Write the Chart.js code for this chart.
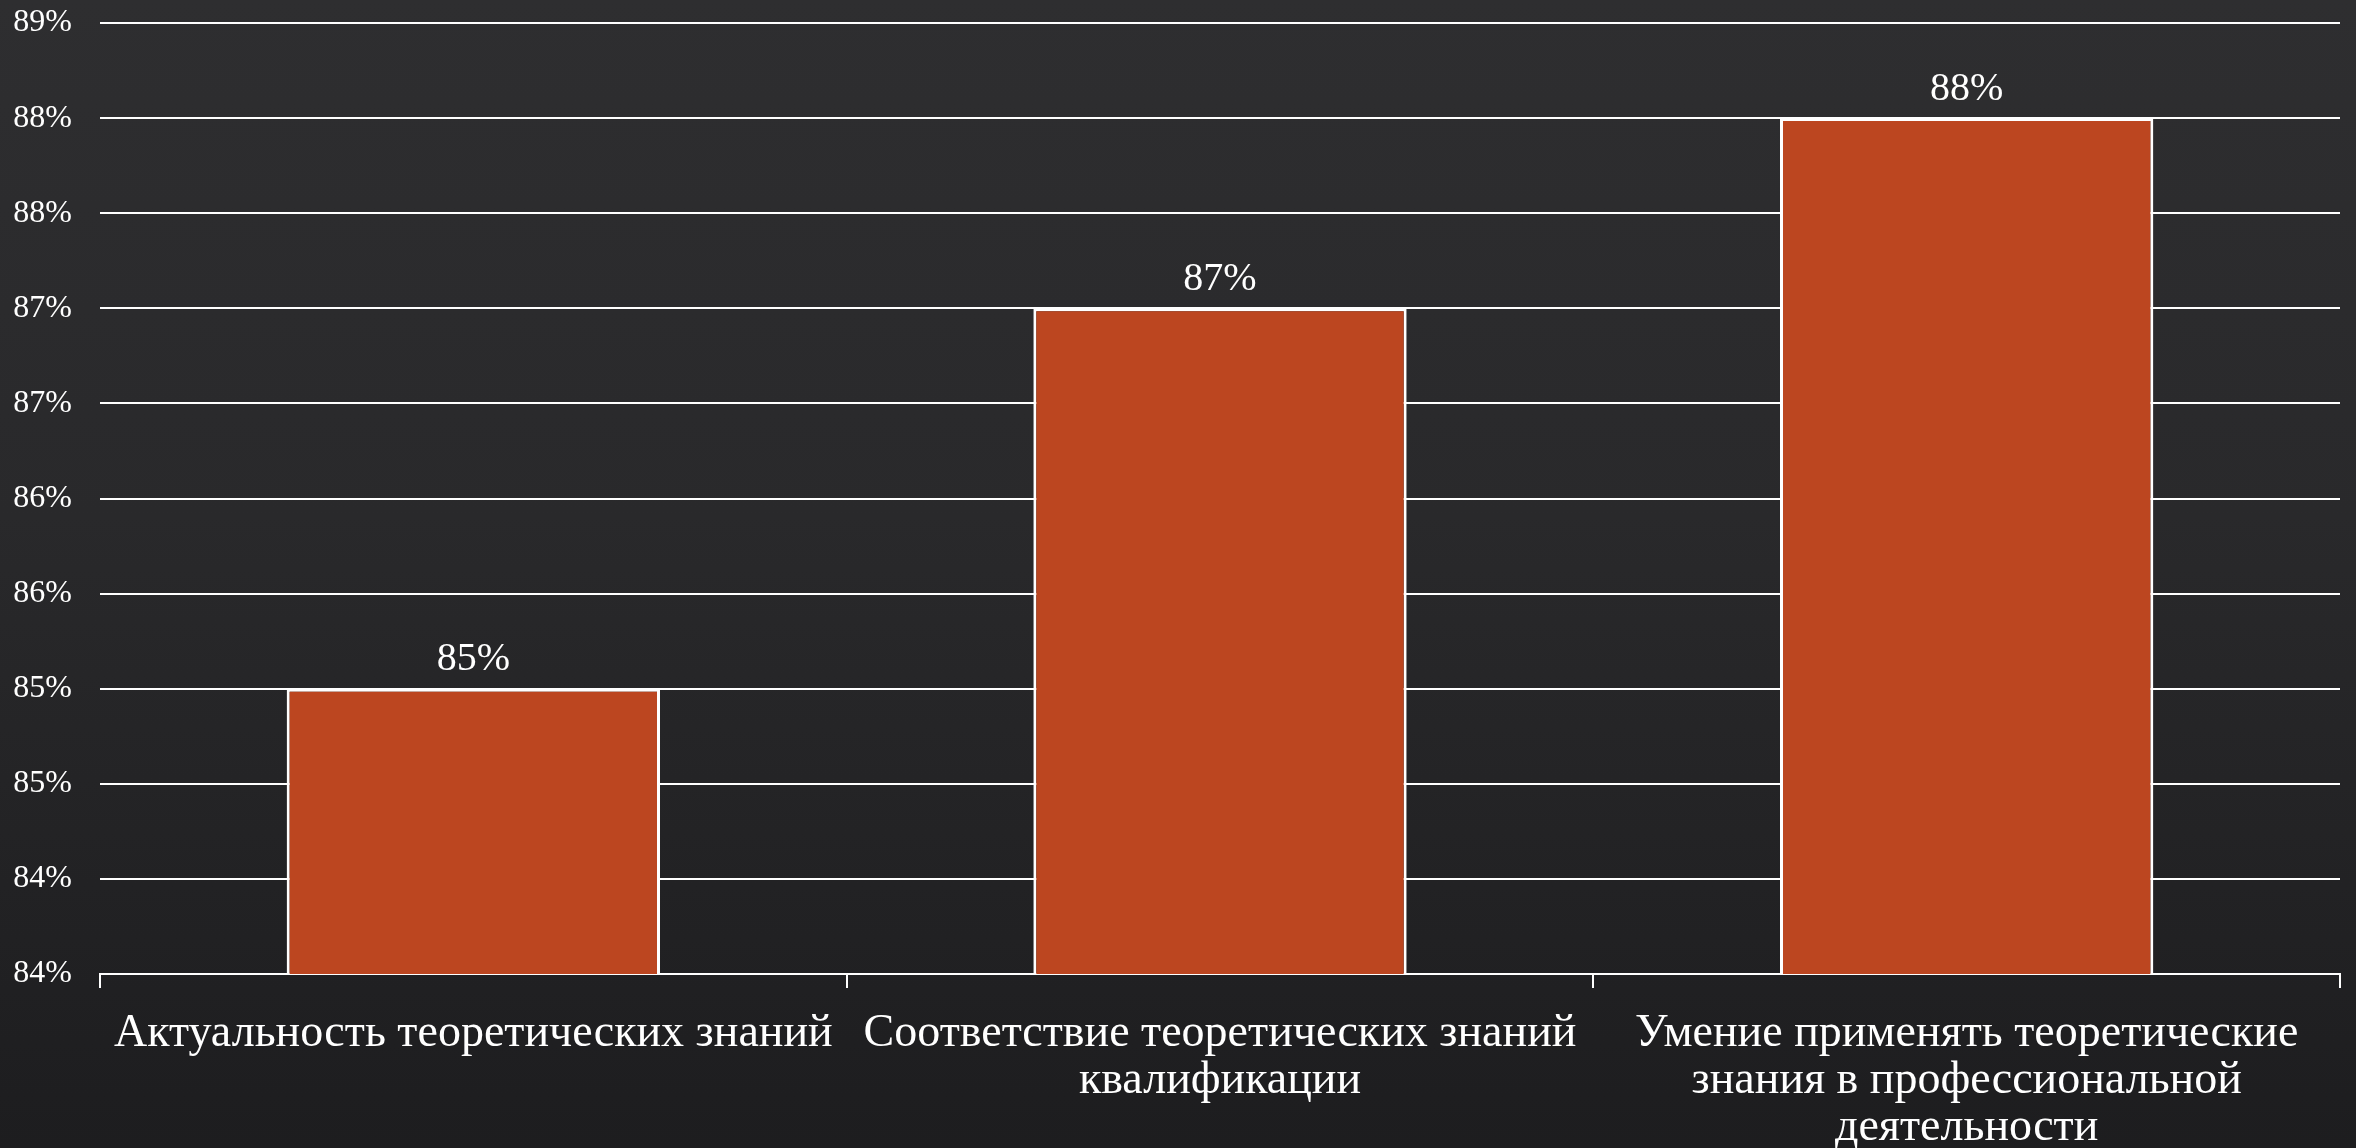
<!DOCTYPE html>
<html>
<head>
<meta charset="utf-8">
<script src="https://cdn.jsdelivr.net/npm/chart.js@4"></script>
<style>
html,body{margin:0;padding:0;width:2356px;height:1148px;overflow:hidden;
background:linear-gradient(180deg,#2e2e30 0%,#29292b 45%,#1d1d1f 100%);}
#wrap{position:absolute;left:0;top:0;width:2356px;height:1148px;}
</style>
</head>
<body>
<div id="wrap"><canvas id="c"></canvas></div>
<script>
const categories = [
  "Актуальность теоретических знаний",
  ["Соответствие теоретических знаний", "квалификации"],
  ["Умение применять теоретические", "знания в профессиональной", "деятельности"]
];
const values = [85.5, 87.5, 88.5];
const valueLabels = ["85%", "87%", "88%"];
const yTickLabels = ["84%","84%","85%","85%","86%","86%","87%","87%","88%","88%","89%"];

const SERIF = '"Liberation Serif", "DejaVu Serif", serif';

const barLabelPlugin = {
  id: 'barLabels',
  afterDatasetsDraw(chart) {
    const ctx = chart.ctx;
    const meta = chart.getDatasetMeta(0);
    ctx.save();
    ctx.fillStyle = '#ffffff';
    ctx.font = '40px ' + SERIF;
    ctx.textAlign = 'center';
    ctx.textBaseline = 'bottom';
    meta.data.forEach((bar, i) => {
      ctx.fillText(valueLabels[i], bar.x, bar.y - 9);
    });
    ctx.restore();
  }
};

new Chart(document.getElementById('c'), {
  type: 'bar',
  data: {
    labels: categories,
    datasets: [{
      data: values,
      backgroundColor: '#bc4620',
      borderColor: '#ffffff',
      borderWidth: 3,
      borderSkipped: false,
      categoryPercentage: 1.0,
      barPercentage: 0.5
    }]
  },
  options: {
    responsive: true,
    maintainAspectRatio: false,
    animation: false,
    devicePixelRatio: 1,
    layout: { padding: { top: 23, right: 16, left: 0, bottom: 0 } },
    plugins: { legend: { display: false }, tooltip: { enabled: false } },
    scales: {
      x: {
        afterFit(scale) { scale.height = 174; scale.paddingLeft = 0; scale.paddingRight = 0; },
        grid: { offset: true, drawOnChartArea: false, drawTicks: true, tickLength: 14, color: '#ffffff', lineWidth: 2 },
        border: { display: true, color: '#ffffff', width: 2 },
        ticks: {
          color: '#ffffff',
          font: { family: SERIF, size: 46, lineHeight: '47px' },
          padding: 22,
          maxRotation: 0,
          autoSkip: false
        }
      },
      y: {
        min: 84, max: 89,
        afterFit(scale) { scale.width = 100; scale.paddingTop = 0; scale.paddingBottom = 0; },
        grid: { color: '#ffffff', lineWidth: 2, drawTicks: false },
        border: { display: false },
        ticks: {
          stepSize: 0.5,
          color: '#ffffff',
          padding: 28,
          font: { family: SERIF, size: 32 },
          callback: (v, i) => yTickLabels[i]
        }
      }
    }
  },
  plugins: [barLabelPlugin]
});
</script>
</body>
</html>
